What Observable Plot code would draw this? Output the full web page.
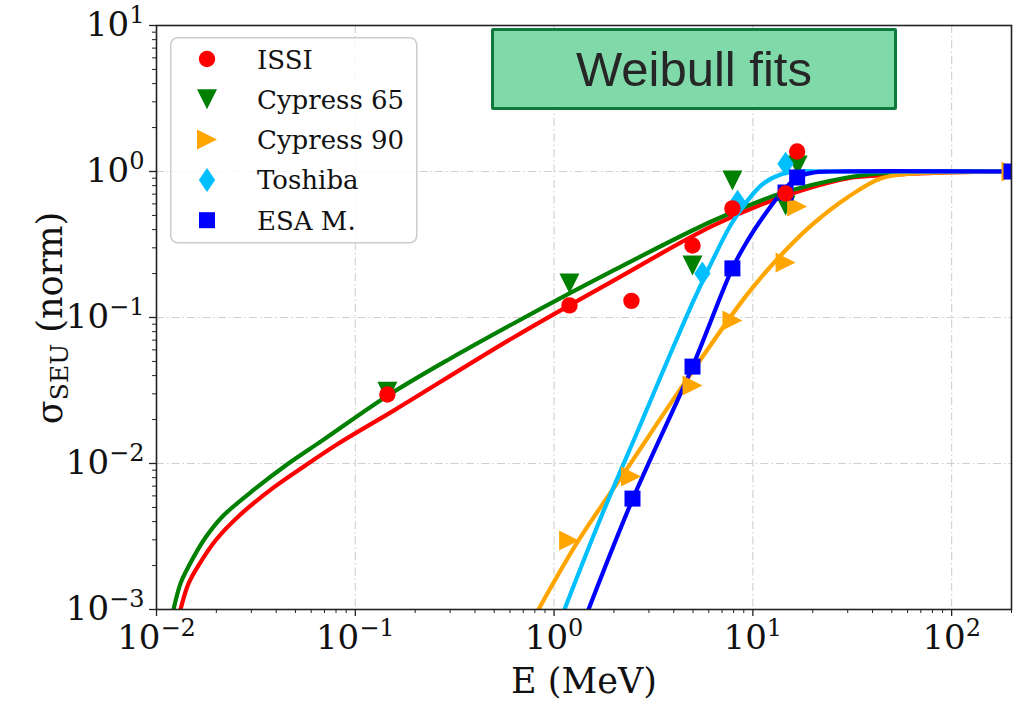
<!DOCTYPE html>
<html><head><meta charset="utf-8">
<script src="https://cdn.jsdelivr.net/npm/d3@7"></script>
<script src="https://cdn.jsdelivr.net/npm/@observablehq/plot@0.6"></script>
<style>
body{margin:0;background:#fff;}
#wrap{position:relative;width:1014px;height:701px;overflow:hidden;}
#wrap > svg{display:block;}
#weibull{position:absolute;left:491px;top:28px;width:400px;height:76px;background:#80d9a9;border:3px solid #0d7a3c;
 border-radius:2px;display:flex;align-items:center;justify-content:center;font-family:"Liberation Sans",Arial,sans-serif;
 font-size:49px;color:#262626;}
</style></head><body><div id="wrap"></div>
<script>
// ---------- data ----------
const seriesNames = ["ISSI", "Cypress 65", "Cypress 90", "Toshiba", "ESA M."];

const issiE = [0.145, 1.195, 2.45, 4.97, 7.89, 14.6, 16.7];
const issiS = [0.0297, 0.121, 0.130, 0.311, 0.559, 0.706, 1.37];

const cy65E = [0.145, 1.195, 4.97, 7.89, 14.6, 16.8];
const cy65S = [0.031, 0.171, 0.227, 0.868, 0.585, 1.1];

const cy90E = [1.19, 2.44, 4.97, 7.89, 14.6, 16.7, 200];
const cy90S = [0.00297, 0.00815, 0.0342, 0.0955, 0.238, 0.575, 1.0];

const toshE = [5.57, 8.38, 14.6];
const toshS = [0.2, 0.62, 1.13];

const esaE = [2.48, 4.97, 7.89, 14.6, 16.7, 200];
const esaS = [0.00575, 0.0461, 0.217, 0.718, 0.91, 1.0];

// fitted curves
const issiFitE = [0.0132, 0.0145, 0.01625, 0.0198, 0.0258, 0.0383, 0.0561, 0.0823, 0.159, 0.625, 1.99, 6.34, 13.8, 29.9, 43.9, 95.3, 200];
const issiFitS = [0.001, 0.00151, 0.0020, 0.00297, 0.00434, 0.00675, 0.00969, 0.0137, 0.0234, 0.073, 0.179, 0.427, 0.664, 0.896, 0.939, 0.985, 1.0];

const cy65FitE = [0.01218, 0.01321, 0.01449, 0.01764, 0.02148, 0.0315, 0.0461, 0.0684, 0.1435, 0.301, 0.625, 1.99, 6.34, 13.8, 29.9, 43.9, 95.3, 200];
const cy65FitS = [0.001, 0.00151, 0.00197, 0.00311, 0.00434, 0.00675, 0.0100, 0.0144, 0.0288, 0.0524, 0.091, 0.210, 0.462, 0.706, 0.910, 0.969, 1.0, 1.0];

const cy90FitE = [0.835, 1.327, 2.367, 4.48, 9.18, 13.8, 20.2, 29.9, 43.9, 64.3, 95.3, 200];
const cy90FitS = [0.001, 0.00297, 0.00953, 0.0348, 0.139, 0.266, 0.441, 0.664, 0.896, 0.969, 0.985, 1.0];

const toshFitE = [1.128, 1.711, 2.72, 3.72, 5.03, 6.34, 7.71, 9.40, 11.3, 13.8, 16.7, 24.6, 200];
const toshFitS = [0.001, 0.0042, 0.0185, 0.0507, 0.1306, 0.254, 0.427, 0.632, 0.828, 0.954, 1.0, 1.0, 1.0];

const esaFitE = [1.49, 2.48, 4.97, 7.89, 9.40, 11.3, 13.8, 16.7, 20.2, 24.6, 200];
const esaFitS = [0.001, 0.00566, 0.0461, 0.217, 0.336, 0.492, 0.706, 0.91, 0.984, 1.0, 1.0];

const xMajor = [0.01, 0.1, 1, 10, 100];
const yMajor = [0.001, 0.01, 0.1, 1, 10];

// ---------- marker shapes (matplotlib-like) ----------
const triDown = {draw(c, size){const h=Math.sqrt(size/Math.PI); c.moveTo(0,h); c.lineTo(-h,-h); c.lineTo(h,-h); c.closePath();}};
const triRight = {draw(c, size){const h=Math.sqrt(size/Math.PI); c.moveTo(h,0); c.lineTo(-h,-h); c.lineTo(-h,h); c.closePath();}};
const thinDiamond = {draw(c, size){const h=Math.sqrt(size/Math.PI); c.moveTo(0,-h); c.lineTo(0.68*h,0); c.lineTo(0,h); c.lineTo(-0.68*h,0); c.closePath();}};
const square = {draw(c, size){const h=Math.sqrt(size/Math.PI); c.rect(-h,-h,2*h,2*h);}};

const rows = (E, S) => E.map((e, i) => ({e, s: S[i]}));
const series = [
  {name: seriesNames[0], color: "#ff0000", sym: d3.symbolCircle, r: 8.2, pts: rows(issiE, issiS), fit: rows(issiFitE, issiFitS)},
  {name: seriesNames[1], color: "#008000", sym: triDown, r: 10, pts: rows(cy65E, cy65S), fit: rows(cy65FitE, cy65FitS)},
  {name: seriesNames[2], color: "#ffa500", sym: triRight, r: 10, pts: rows(cy90E, cy90S), fit: rows(cy90FitE, cy90FitS)},
  {name: seriesNames[3], color: "#00bfff", sym: thinDiamond, r: 12, pts: rows(toshE, toshS), fit: rows(toshFitE, toshFitS)},
  {name: seriesNames[4], color: "#0000ff", sym: square, r: 8, pts: rows(esaE, esaS), fit: rows(esaFitE, esaFitS)}
];

const xMinor = [], yMinor = [];
for (let d = -2; d <= 2; d++) for (let k = 2; k <= 9; k++) { const v = k * 10 ** d; if (v <= 200) xMinor.push(v); }
for (let d = -3; d <= 0; d++) for (let k = 2; k <= 9; k++) yMinor.push(k * 10 ** d);

const fmt = d => "10^" + Math.round(Math.log10(d));
const gridStyle = {stroke: "#cfcfcf", strokeOpacity: 1, strokeWidth: 1.1, strokeDasharray: "8,3,1.5,3"};
const markerOrder = [1, 2, 3, 4, 0];

const plot = Plot.plot({
  width: 1014, height: 701,
  marginLeft: 156, marginRight: 3, marginTop: 25, marginBottom: 92,
  x: {type: "log", domain: [0.01, 200], label: null},
  y: {type: "log", domain: [1e-3, 10], label: null},
  style: {fontFamily: "DejaVu Serif", fontSize: "34px", color: "#111", background: "#fff"},
  marks: [
    Plot.gridX(xMajor, gridStyle),
    Plot.gridY(yMajor, gridStyle),
    ...series.map(s => Plot.line(s.fit, {x: "e", y: "s", stroke: s.color, strokeWidth: 4.2, curve: "catmull-rom", clip: true})),
    ...markerOrder.map(i => Plot.dot(series[i].pts, {x: "e", y: "s", symbol: series[i].sym, r: series[i].r, fill: series[i].color, stroke: "none", clip: true})),
    Plot.axisX(xMinor, {tickSize: 4, tickFormat: () => "", stroke: "#222", label: null}),
    Plot.axisY(yMinor, {tickSize: 4, tickFormat: () => "", stroke: "#222", label: null}),
    Plot.axisX(xMajor, {tickSize: 7, tickPadding: 8, tickFormat: fmt, stroke: "#222", strokeWidth: 1.3, label: null}),
    Plot.axisY(yMajor, {tickSize: 7, tickPadding: 5, tickFormat: fmt, stroke: "#222", strokeWidth: 1.3, label: null}),
    Plot.frame({stroke: "#222", strokeWidth: 1.6})
  ]
});

const wrap = document.getElementById("wrap");
wrap.appendChild(plot);
const ns = "http://www.w3.org/2000/svg";

// superscript tick labels
plot.querySelectorAll("text").forEach(t => {
  const m = t.textContent.match(/^10\^(-?\d+)$/);
  if (!m) return;
  t.textContent = "";
  t.setAttribute("font-size", "34");
  t.setAttribute("fill", "#111");
  const a = document.createElementNS(ns, "tspan"); a.textContent = "10"; t.appendChild(a);
  const b = document.createElementNS(ns, "tspan");
  b.textContent = m[1].replace("-", "\u2212");
  b.setAttribute("font-size", "24"); b.setAttribute("dy", "-13");
  t.appendChild(b);
});

// axis labels
const xl = document.createElementNS(ns, "text");
xl.setAttribute("x", 584); xl.setAttribute("y", 693);
xl.setAttribute("text-anchor", "middle"); xl.setAttribute("font-size", "35"); xl.setAttribute("fill", "#111");
xl.textContent = "E (MeV)";
plot.appendChild(xl);

const yl = document.createElementNS(ns, "text");
yl.setAttribute("transform", "translate(62,318) rotate(-90)");
yl.setAttribute("text-anchor", "middle"); yl.setAttribute("font-size", "35"); yl.setAttribute("fill", "#111");
const y1 = document.createElementNS(ns, "tspan"); y1.textContent = "\u03c3"; yl.appendChild(y1);
const y2 = document.createElementNS(ns, "tspan"); y2.textContent = "SEU"; y2.setAttribute("font-size", "25"); y2.setAttribute("dy", "6"); yl.appendChild(y2);
const y3 = document.createElementNS(ns, "tspan"); y3.textContent = " (norm)"; y3.setAttribute("dy", "-6"); yl.appendChild(y3);
plot.appendChild(yl);

// legend
const leg = d3.select(wrap).append("svg")
  .style("position", "absolute").style("left", "170px").style("top", "37px")
  .attr("width", 249).attr("height", 208);
leg.append("rect").attr("x", 0.75).attr("y", 0.75).attr("width", 246).attr("height", 205).attr("rx", 7)
  .attr("fill", "#fff").attr("fill-opacity", 0.8).attr("stroke", "#cccccc").attr("stroke-width", 1.5);
series.forEach((s, i) => {
  const cy = 22 + i * 40.3;
  leg.append("path").attr("transform", `translate(37,${cy})`)
    .attr("d", d3.symbol(s.sym, s.r * s.r * Math.PI)()).attr("fill", s.color);
  leg.append("text").attr("x", 87).attr("y", cy + 9.5)
    .attr("font-family", "DejaVu Serif").attr("font-size", 26).attr("fill", "#111").text(s.name);
});

// annotation box
const box = document.createElement("div");
box.id = "weibull"; box.textContent = "Weibull fits";
wrap.appendChild(box);
</script></body></html>
